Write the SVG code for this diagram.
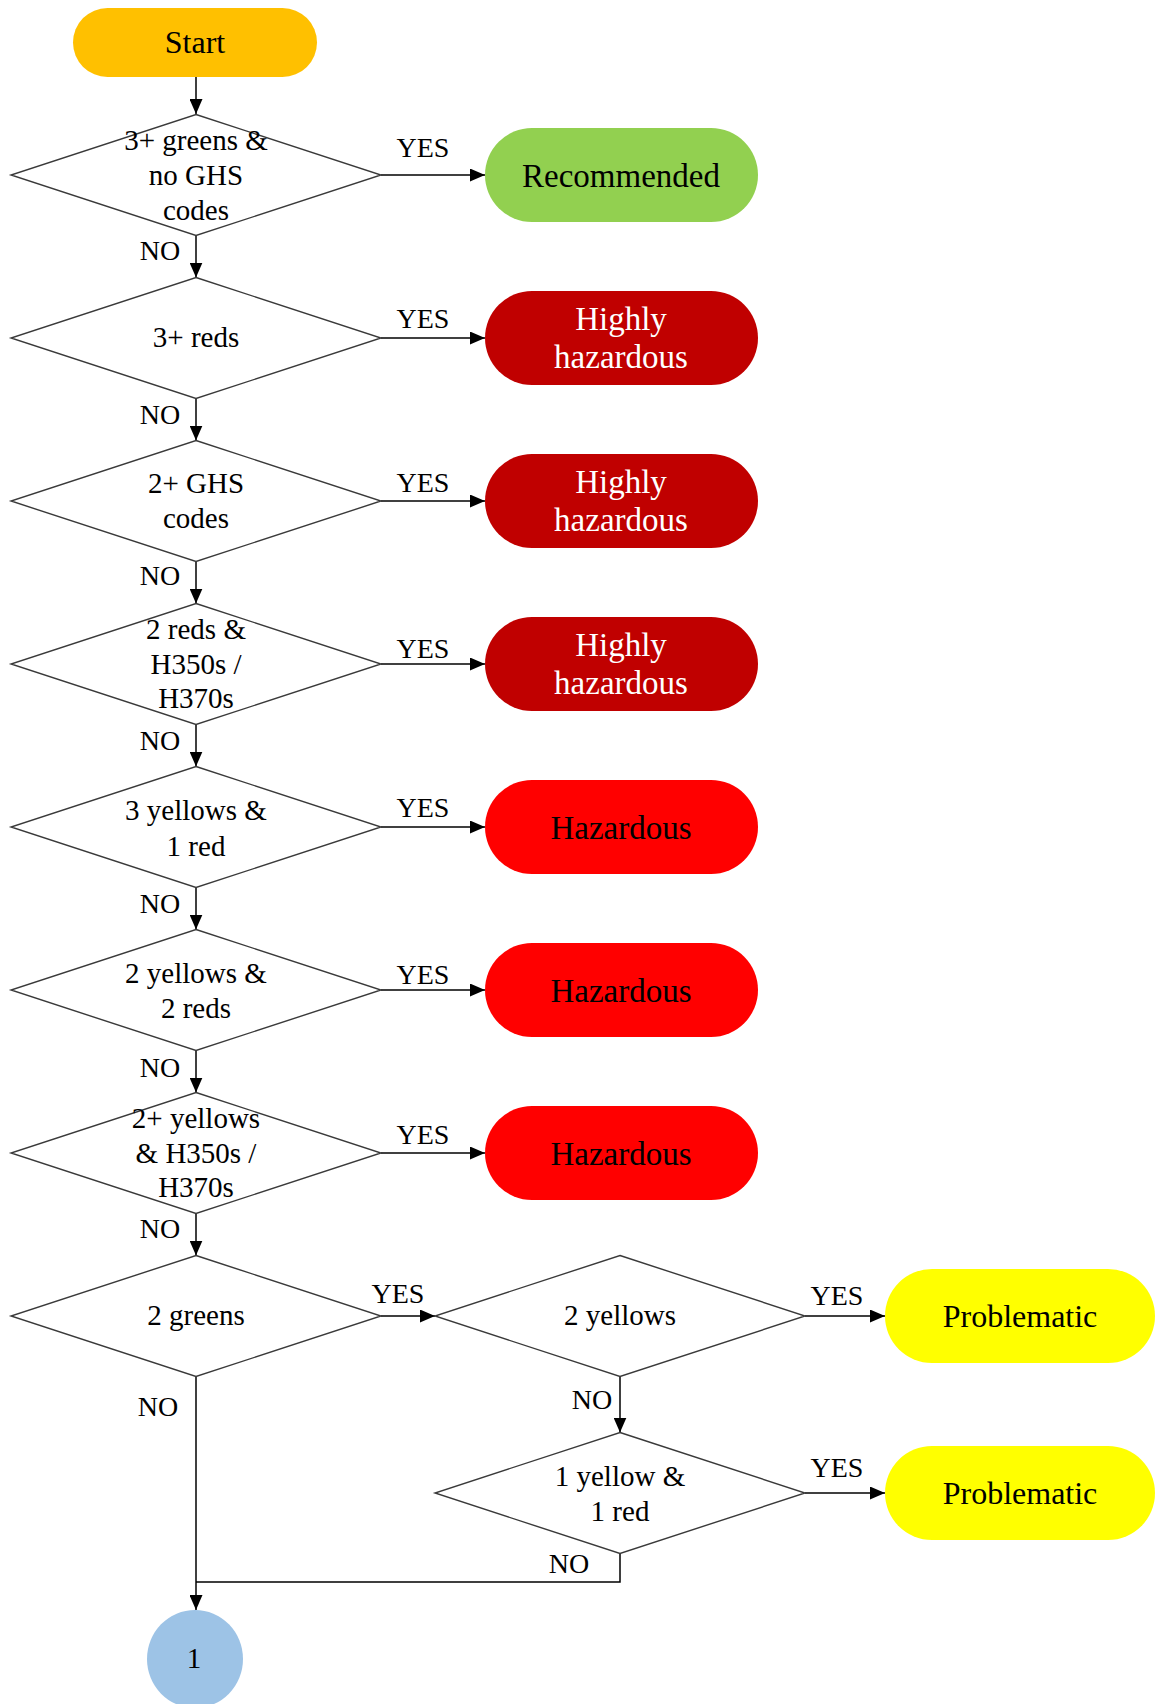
<svg xmlns="http://www.w3.org/2000/svg" width="1155" height="1704" viewBox="0 0 1155 1704">
<style>
.dia{fill:#fff;stroke:#3a3a3a;stroke-width:1.4}
.t{font-family:"Liberation Serif","Times New Roman",serif;font-size:29px;fill:#000;text-anchor:middle}
.p{font-family:"Liberation Serif","Times New Roman",serif;font-size:33px;fill:#000;text-anchor:middle}
.w{fill:#fff}
.lbl{font-family:"Liberation Serif","Times New Roman",serif;font-size:28px;fill:#000;text-anchor:middle}
.c{fill:none;stroke:#000;stroke-width:1.5}
</style>
<defs>
<marker id="ah" markerUnits="userSpaceOnUse" markerWidth="15" markerHeight="13" refX="15" refY="6.5" orient="auto">
<path d="M0,0 L15,6.5 L0,13 z" fill="#000"/>
</marker>
</defs>
<rect width="1155" height="1704" fill="#fff"/>

<g id="connectors">
<line class="c" x1="196" y1="77" x2="196" y2="114" marker-end="url(#ah)"/>
<line class="c" x1="196" y1="235.5" x2="196" y2="277.5" marker-end="url(#ah)"/>
<line class="c" x1="196" y1="398.5" x2="196" y2="440.5" marker-end="url(#ah)"/>
<line class="c" x1="196" y1="561.5" x2="196" y2="603.5" marker-end="url(#ah)"/>
<line class="c" x1="196" y1="724.5" x2="196" y2="766.5" marker-end="url(#ah)"/>
<line class="c" x1="196" y1="887.5" x2="196" y2="929.5" marker-end="url(#ah)"/>
<line class="c" x1="196" y1="1050.5" x2="196" y2="1092.5" marker-end="url(#ah)"/>
<line class="c" x1="196" y1="1213.5" x2="196" y2="1255.5" marker-end="url(#ah)"/>
<line class="c" x1="381" y1="175" x2="485" y2="175" marker-end="url(#ah)"/>
<line class="c" x1="381" y1="338" x2="485" y2="338" marker-end="url(#ah)"/>
<line class="c" x1="381" y1="501" x2="485" y2="501" marker-end="url(#ah)"/>
<line class="c" x1="381" y1="664" x2="485" y2="664" marker-end="url(#ah)"/>
<line class="c" x1="381" y1="827" x2="485" y2="827" marker-end="url(#ah)"/>
<line class="c" x1="381" y1="990" x2="485" y2="990" marker-end="url(#ah)"/>
<line class="c" x1="381" y1="1153" x2="485" y2="1153" marker-end="url(#ah)"/>
<line class="c" x1="381" y1="1316" x2="435" y2="1316" marker-end="url(#ah)"/>
<line class="c" x1="805" y1="1316" x2="885" y2="1316" marker-end="url(#ah)"/>
<line class="c" x1="620" y1="1376.5" x2="620" y2="1432.5" marker-end="url(#ah)"/>
<line class="c" x1="805" y1="1493" x2="885" y2="1493" marker-end="url(#ah)"/>
<polyline class="c" points="620,1553.5 620,1582 196,1582"/>
<line class="c" x1="196" y1="1376.5" x2="196" y2="1610" marker-end="url(#ah)"/>

<text class="lbl" x="423" y="157">YES</text>
<text class="lbl" x="423" y="328">YES</text>
<text class="lbl" x="423" y="492">YES</text>
<text class="lbl" x="423" y="658">YES</text>
<text class="lbl" x="423" y="817">YES</text>
<text class="lbl" x="423" y="984">YES</text>
<text class="lbl" x="423" y="1144">YES</text>
<text class="lbl" x="398" y="1303">YES</text>
<text class="lbl" x="837" y="1305">YES</text>
<text class="lbl" x="837" y="1477">YES</text>
<text class="lbl" x="160" y="260">NO</text>
<text class="lbl" x="160" y="424">NO</text>
<text class="lbl" x="160" y="585">NO</text>
<text class="lbl" x="160" y="750">NO</text>
<text class="lbl" x="160" y="913">NO</text>
<text class="lbl" x="160" y="1077">NO</text>
<text class="lbl" x="160" y="1238">NO</text>
<text class="lbl" x="158" y="1416">NO</text>
<text class="lbl" x="592" y="1409">NO</text>
<text class="lbl" x="569" y="1573">NO</text>
</g>

<g id="start">
<rect x="73" y="8" width="244" height="69" rx="34.5" fill="#FFC000"/>
<text class="p" x="195" y="53" style="font-size:32px">Start</text>
</g>

<g id="d1">
<polygon class="dia" points="196,114.5 381,175 196,235.5 11,175"/>
<text class="t" x="196" y="150">3+ greens &amp;</text>
<text class="t" x="196" y="185">no GHS</text>
<text class="t" x="196" y="220">codes</text>
</g>
<g id="recommended">
<rect x="485" y="128" width="273" height="94" rx="47" fill="#92D050"/>
<text class="p" x="621" y="187">Recommended</text>
</g>

<g id="d2">
<polygon class="dia" points="196,277.5 381,338 196,398.5 11,338"/>
<text class="t" x="196" y="347">3+ reds</text>
</g>
<g id="hh1">
<rect x="485" y="291" width="273" height="94" rx="47" fill="#C00000"/>
<text class="p w" x="621" y="330">Highly</text>
<text class="p w" x="621" y="368">hazardous</text>
</g>

<g id="d3">
<polygon class="dia" points="196,440.5 381,501 196,561.5 11,501"/>
<text class="t" x="196" y="493">2+ GHS</text>
<text class="t" x="196" y="528">codes</text>
</g>
<g id="hh2">
<rect x="485" y="454" width="273" height="94" rx="47" fill="#C00000"/>
<text class="p w" x="621" y="493">Highly</text>
<text class="p w" x="621" y="531">hazardous</text>
</g>

<g id="d4">
<polygon class="dia" points="196,603.5 381,664 196,724.5 11,664"/>
<text class="t" x="196" y="639">2 reds &amp;</text>
<text class="t" x="196" y="674">H350s /</text>
<text class="t" x="196" y="708">H370s</text>
</g>
<g id="hh3">
<rect x="485" y="617" width="273" height="94" rx="47" fill="#C00000"/>
<text class="p w" x="621" y="656">Highly</text>
<text class="p w" x="621" y="694">hazardous</text>
</g>

<g id="d5">
<polygon class="dia" points="196,766.5 381,827 196,887.5 11,827"/>
<text class="t" x="196" y="820">3 yellows &amp;</text>
<text class="t" x="196" y="856">1 red</text>
</g>
<g id="hz1">
<rect x="485" y="780" width="273" height="94" rx="47" fill="#FF0000"/>
<text class="p" x="621" y="839">Hazardous</text>
</g>

<g id="d6">
<polygon class="dia" points="196,929.5 381,990 196,1050.5 11,990"/>
<text class="t" x="196" y="983">2 yellows &amp;</text>
<text class="t" x="196" y="1018">2 reds</text>
</g>
<g id="hz2">
<rect x="485" y="943" width="273" height="94" rx="47" fill="#FF0000"/>
<text class="p" x="621" y="1002">Hazardous</text>
</g>

<g id="d7">
<polygon class="dia" points="196,1092.5 381,1153 196,1213.5 11,1153"/>
<text class="t" x="196" y="1128">2+ yellows</text>
<text class="t" x="196" y="1163">&amp; H350s /</text>
<text class="t" x="196" y="1197">H370s</text>
</g>
<g id="hz3">
<rect x="485" y="1106" width="273" height="94" rx="47" fill="#FF0000"/>
<text class="p" x="621" y="1165">Hazardous</text>
</g>

<g id="d8">
<polygon class="dia" points="196,1255.5 381,1316 196,1376.5 11,1316"/>
<text class="t" x="196" y="1325">2 greens</text>
</g>
<g id="d9">
<polygon class="dia" points="620,1255.5 805,1316 620,1376.5 435,1316"/>
<text class="t" x="620" y="1325">2 yellows</text>
</g>
<g id="prob1">
<rect x="885" y="1269" width="270" height="94" rx="47" fill="#FFFF00"/>
<text class="p" x="1020" y="1327" style="font-size:32px">Problematic</text>
</g>
<g id="d10">
<polygon class="dia" points="620,1432.5 805,1493 620,1553.5 435,1493"/>
<text class="t" x="620" y="1486">1 yellow &amp;</text>
<text class="t" x="620" y="1521">1 red</text>
</g>
<g id="prob2">
<rect x="885" y="1446" width="270" height="94" rx="47" fill="#FFFF00"/>
<text class="p" x="1020" y="1504" style="font-size:32px">Problematic</text>
</g>

<g id="connector1">
<ellipse cx="195" cy="1659" rx="48" ry="49" fill="#9DC3E6"/>
<text class="t" x="194" y="1668">1</text>
</g>
</svg>
